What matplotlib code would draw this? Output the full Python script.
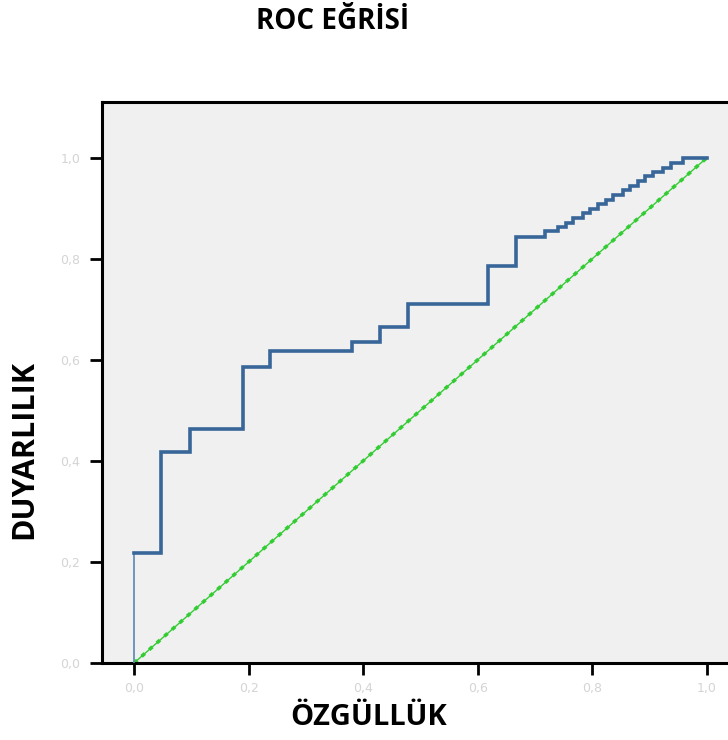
import matplotlib.pyplot as plt

# ROC curve step corners (1 - specificity, sensitivity)
fpr = [0.0, 0.0, 0.047, 0.098, 0.190, 0.237, 0.380, 0.429, 0.478, 0.618, 0.667,
       0.717, 0.740, 0.754, 0.766, 0.784, 0.796, 0.810, 0.824, 0.836, 0.853,
       0.866, 0.880, 0.892, 0.906, 0.923, 0.937, 0.958, 1.0]
tpr = [0.0, 0.218, 0.418, 0.463, 0.586, 0.618, 0.636, 0.665, 0.711, 0.786, 0.844,
       0.855, 0.863, 0.871, 0.881, 0.891, 0.899, 0.909, 0.917, 0.927, 0.937,
       0.945, 0.954, 0.964, 0.972, 0.980, 0.990, 1.0, 1.0]

ref_x = [0.0, 1.0]
ref_y = [0.0, 1.0]

ticks = [0.0, 0.2, 0.4, 0.6, 0.8, 1.0]
tick_labels = ["0,0", "0,2", "0,4", "0,6", "0,8", "1,0"]

fig = plt.figure(figsize=(7.28, 7.40), dpi=100)
ax = fig.add_axes([0.140, 0.104, 0.875, 0.758])
ax.set_facecolor("#f0f0f0")

# reference diagonal
ax.plot(ref_x, ref_y, color="#33cc33", lw=1.0, zorder=2)
ax.plot(ref_x, ref_y, color="#33cc33", lw=2.6, dashes=(1.2, 1.6), zorder=2)

# first vertical segment is drawn thin, the rest thick
ax.plot(fpr[:2], tpr[:2], color="#5b86b5", lw=1.2, zorder=3)
ax.plot(fpr[1:], tpr[1:], color="#386699", lw=2.6, drawstyle="steps-post",
        solid_joinstyle="miter", zorder=3)

ax.set_xlim(-0.056, 1.056)
ax.set_ylim(0.0, 1.11)
ax.set_xticks(ticks)
ax.set_xticklabels(tick_labels)
ax.set_yticks(ticks)
ax.set_yticklabels(tick_labels)
ax.tick_params(axis="both", direction="out", length=8.5, width=2, color="black",
               labelsize=9, labelcolor="#d4d4d4")
ax.tick_params(axis="y", pad=7)
ax.tick_params(axis="x", pad=5)

for s in ax.spines.values():
    s.set_linewidth(2.2)
    s.set_color("black")

fig.text(0.457, 0.971, "ROC EĞRİSİ", ha="center", va="center",
         fontsize=20, fontweight="bold", family="Open Sans")
fig.text(0.506, 0.031, "ÖZGÜLLÜK", ha="center", va="center",
         fontsize=21, fontweight="bold", family="Open Sans")
fig.text(0.033, 0.392, "DUYARLILIK", ha="center", va="center", rotation=90,
         fontsize=22, fontweight="bold", family="Open Sans")

fig.savefig("out.png", dpi=100)
